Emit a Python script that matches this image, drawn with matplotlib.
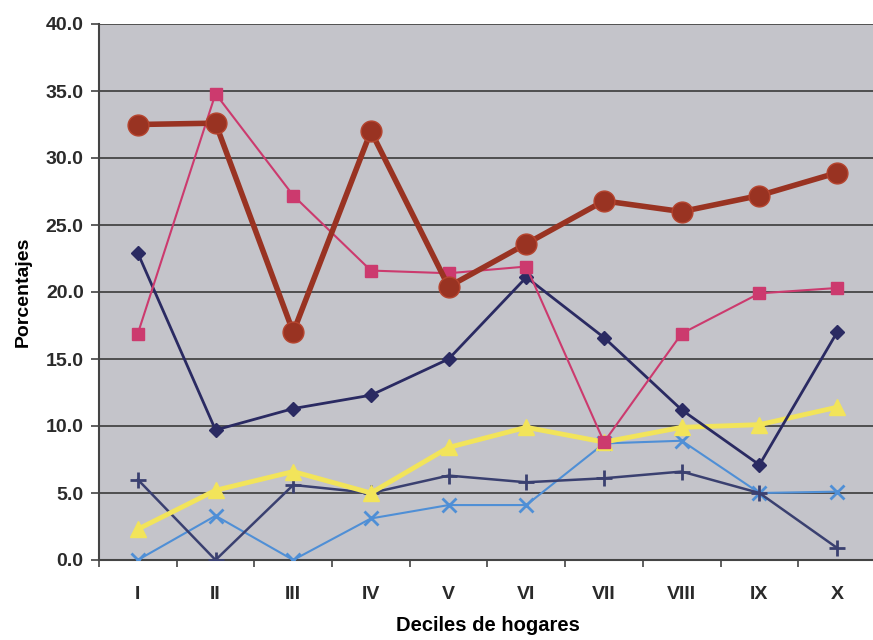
import numpy as np
import matplotlib
matplotlib.use("Agg")
import matplotlib.pyplot as plt

deciles = ["I", "II", "III", "IV", "V", "VI", "VII", "VIII", "IX", "X"]

serie_circulos = [32.5, 32.6, 17.0, 32.0, 20.4, 23.6, 26.8, 26.0, 27.2, 28.9]
serie_cuadros = [16.9, 34.8, 27.2, 21.6, 21.4, 21.9, 8.8, 16.9, 19.9, 20.3]
serie_rombos = [22.9, 9.7, 11.3, 12.3, 15.0, 21.1, 16.6, 11.2, 7.1, 17.0]
serie_triangulos = [2.3, 5.2, 6.6, 5.0, 8.4, 9.9, 8.8, 9.9, 10.1, 11.4]
serie_cruces = [6.0, 0.0, 5.6, 5.0, 6.3, 5.8, 6.1, 6.6, 5.0, 0.9]
serie_equis = [0.0, 3.3, 0.0, 3.1, 4.1, 4.1, 8.7, 8.9, 5.0, 5.1]

plt.rcParams['font.family'] = ['Liberation Sans', 'DejaVu Sans']
plt.rcParams['font.weight'] = 'bold'
plt.rcParams['text.color'] = '#2a2a2a'
plt.rcParams['xtick.labelcolor'] = '#2a2a2a'
plt.rcParams['ytick.labelcolor'] = '#2a2a2a'

fig = plt.figure(figsize=(8.73, 6.4), dpi=100)
ax = fig.add_axes([0.1134, 0.125, 0.89, 0.8375])
ax.set_facecolor('#c4c4ca')

x = np.arange(len(deciles))

ax.plot(x, serie_equis, color='#4f8fd6', lw=1.5, marker='x', ms=10, mew=2, zorder=3)
ax.plot(x, serie_cruces, color='#3a4070', lw=1.8, marker='+', ms=12, mew=2, zorder=3)
ax.plot(x, serie_triangulos, color='#f2e45a', lw=3.5, marker='^', ms=12, zorder=4)
ax.plot(x, serie_rombos, color='#2a2a62', lw=2, marker='D', ms=7, zorder=4)
ax.plot(x, serie_cuadros, color='#cc3a6e', lw=1.5, marker='s', ms=9, zorder=5)
ax.plot(x, serie_circulos, color='#993322', lw=4, marker='o', ms=15,
        markeredgecolor='#b5442e', zorder=6)

ax.set_xlim(-0.5, len(deciles) - 0.5)
ax.set_ylim(0, 40)
ax.set_yticks(np.arange(0, 40.1, 5))
ax.set_yticklabels([f"{v:.1f}" for v in np.arange(0, 40.1, 5)])
ax.yaxis.grid(True, color='#3a3a3a', lw=1.2)
ax.set_axisbelow(True)

ax.set_xticks(x)
ax.set_xticklabels(deciles)
ax.set_xticks(np.arange(-0.5, len(deciles)), minor=True)
ax.tick_params(axis='x', which='major', length=0, pad=19, labelsize=14)
ax.tick_params(axis='x', which='minor', length=5, width=1.2, color='#444444')
ax.tick_params(axis='y', length=6, width=1.2, color='#444444', labelsize=14, pad=5)

for lado in ['top', 'right']:
    ax.spines[lado].set_visible(False)
ax.spines['left'].set_color('#444444')
ax.spines['bottom'].set_color('#444444')
ax.spines['left'].set_linewidth(1.5)
ax.spines['bottom'].set_linewidth(1.5)
ax.axhline(40, color='#555555', lw=1.2)

ax.set_xlabel("Deciles de hogares", fontsize=14.5, fontweight='bold', labelpad=9)
ax.set_ylabel("Porcentajes", fontsize=14, fontweight='bold', labelpad=10)

fig.savefig("out.png", dpi=100)
